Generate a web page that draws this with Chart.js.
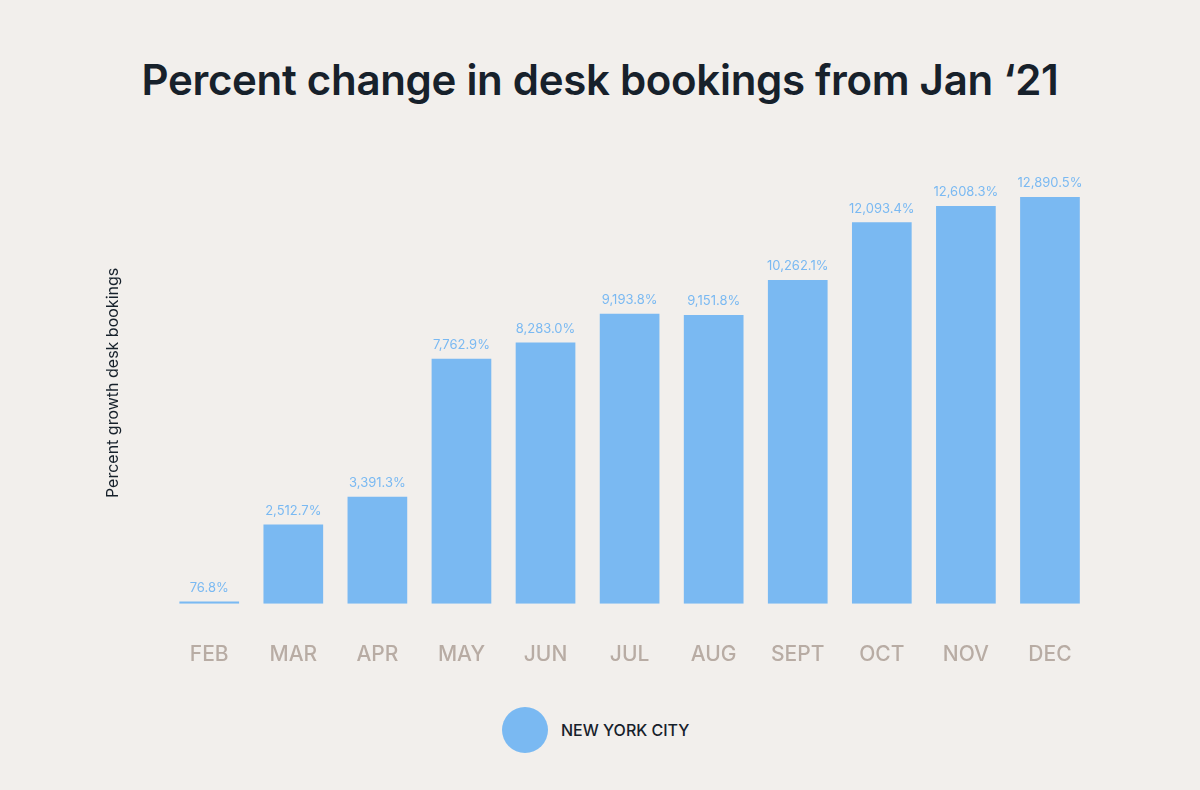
<!DOCTYPE html>
<html>
<head>
<meta charset="utf-8">
<script src="https://cdn.jsdelivr.net/npm/chart.js@4"></script>
<style>
  body { margin: 0; width: 1200px; height: 790px; background: #f2efec; font-family: Inter, "Noto Sans", sans-serif; position: relative; overflow: hidden; }
  #title { position: absolute; top: 54px; left: 0; width: 1200px; text-align: center; font-size: 42px; font-weight: 600; color: #17212b; letter-spacing: -0.3px; }
  #wrap { position: absolute; left: 0; top: 140px; width: 1200px; height: 560px; }
  #legend { position: absolute; top: 707px; left: 502px; display: flex; align-items: center; }
  #legend span.dot { width: 46px; height: 46px; border-radius: 50%; background: #7ab9f2; display: inline-block; margin-right: 13px; }
  #legend span.txt { font-size: 16px; font-weight: 500; color: #17212b; }
</style>
</head>
<body>
<div id="title">Percent change in desk bookings from Jan ‘21</div>
<div id="wrap"><canvas id="bars"></canvas></div>
<div id="legend"><span class="dot"></span><span class="txt">NEW YORK CITY</span></div>
<script>
const months = ['FEB', 'MAR', 'APR', 'MAY', 'JUN', 'JUL', 'AUG', 'SEPT', 'OCT', 'NOV', 'DEC'];
const nycGrowth = [76.8, 2512.7, 3391.3, 7762.9, 8283.0, 9193.8, 9151.8, 10262.1, 12093.4, 12608.3, 12890.5];

// labels above each bar
const valueLabels = {
  id: 'valueLabels',
  afterDatasetsDraw(chart) {
    const ctx = chart.ctx;
    ctx.save();
    ctx.font = '13px Inter, "Noto Sans", sans-serif';
    ctx.fillStyle = '#7ab9f2';
    ctx.textAlign = 'center';
    ctx.textBaseline = 'bottom';
    chart.getDatasetMeta(0).data.forEach((bar, i) => {
      const v = nycGrowth[i].toLocaleString('en-US', { minimumFractionDigits: 1, maximumFractionDigits: 1 });
      ctx.fillText(v + '%', bar.x, bar.y - 7);
    });
    ctx.restore();
  }
};

new Chart(document.getElementById('bars'), {
  type: 'bar',
  data: {
    labels: months,
    datasets: [{ label: 'NEW YORK CITY', data: nycGrowth, backgroundColor: '#7ab9f2', barPercentage: 0.71, categoryPercentage: 1 }]
  },
  options: {
    responsive: true,
    maintainAspectRatio: false,
    animation: false,
    layout: { padding: { left: 104, right: 108, top: 22, bottom: 3 } },
    plugins: { legend: { display: false }, tooltip: { enabled: false } },
    scales: {
      x: {
        grid: { display: false },
        border: { display: false },
        ticks: { color: '#b8aca4', font: { size: 21, family: 'Inter', weight: 500 }, padding: 30 }
      },
      y: {
        min: 0,
        max: 14000,
        grid: { display: false },
        border: { display: false },
        ticks: { display: false },
        title: { display: true, text: 'Percent growth desk bookings', color: '#17212b', font: { size: 16, family: 'Inter' }, padding: { top: 0, bottom: 36 } }
      }
    }
  },
  plugins: [valueLabels]
});
</script>
</body>
</html>
